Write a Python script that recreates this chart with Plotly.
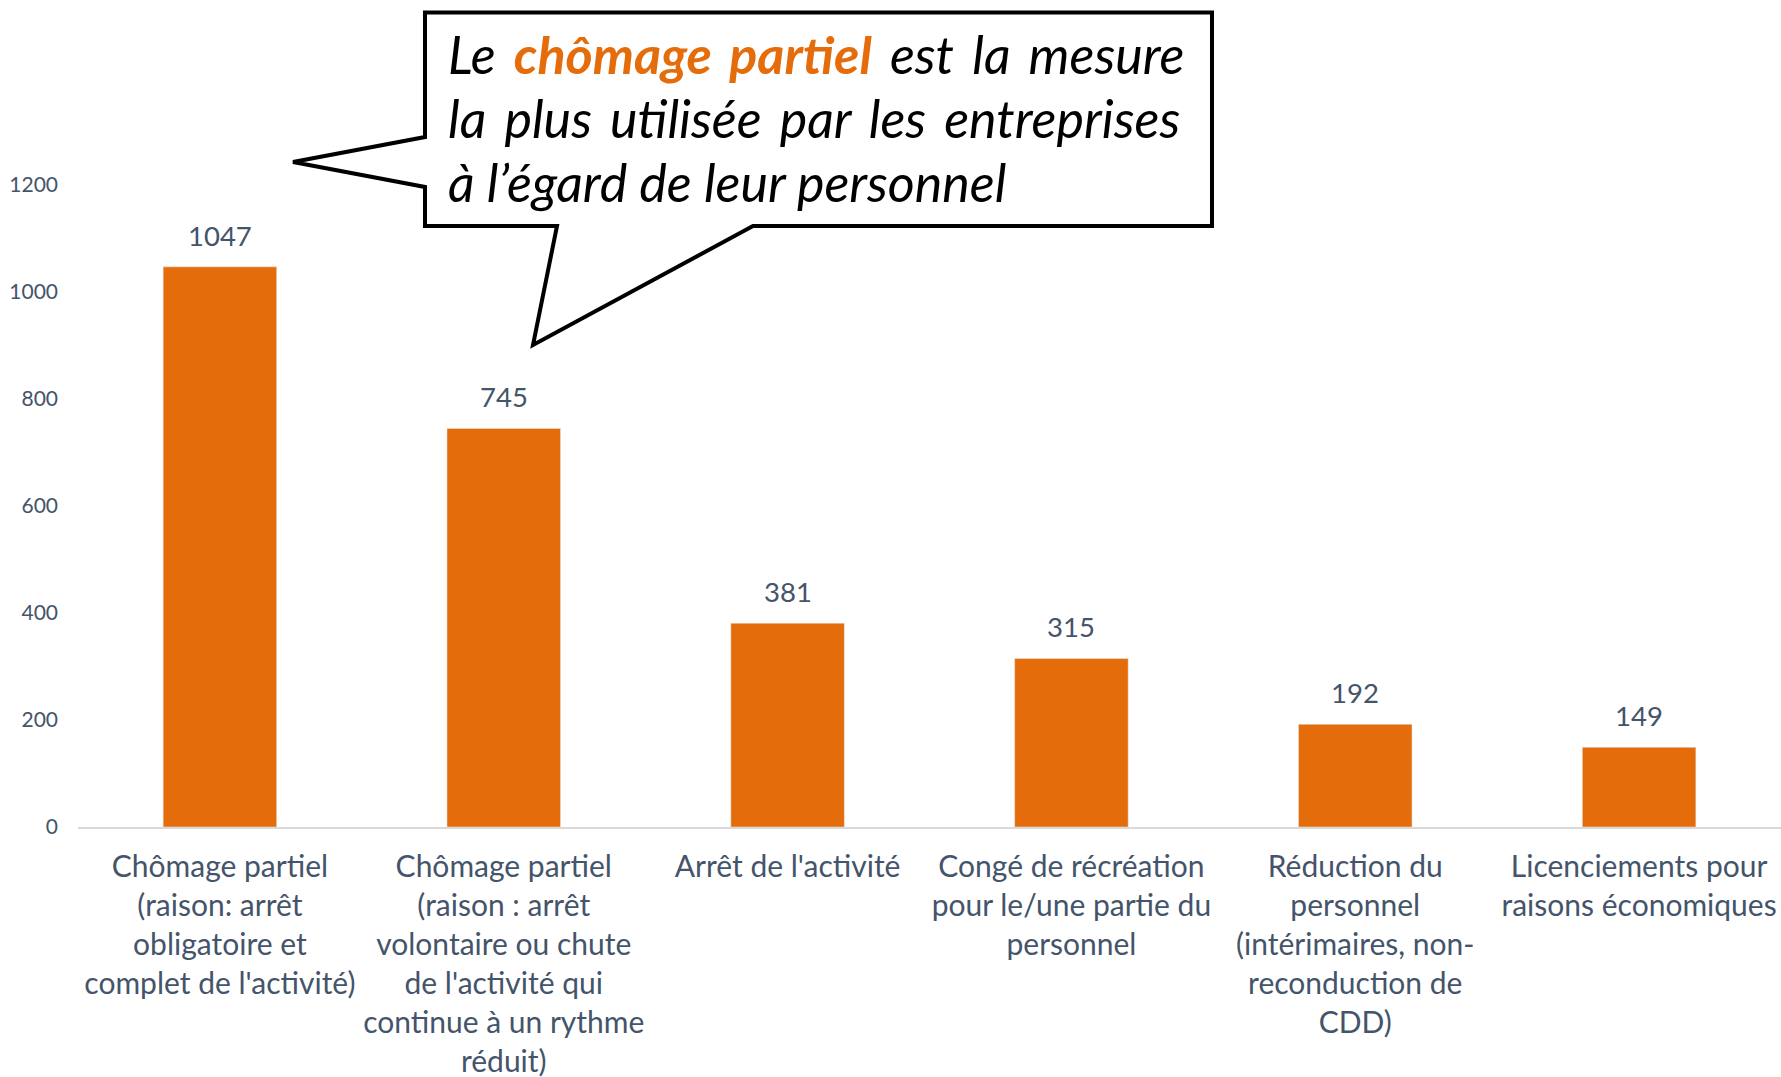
import plotly.graph_objects as go

categories = [
    "Chômage partiel<br>(raison: arrêt<br>obligatoire et<br>complet de l'activité)",
    "Chômage partiel<br>(raison : arrêt<br>volontaire ou chute<br>de l'activité qui<br>continue à un rythme<br>réduit)",
    "Arrêt de l'activité",
    "Congé de récréation<br>pour le/une partie du<br>personnel",
    "Réduction du<br>personnel<br>(intérimaires, non-<br>reconduction de<br>CDD)",
    "Licenciements pour<br>raisons économiques",
]
values = [1047, 745, 381, 315, 192, 149]
y_ticks = [0, 200, 400, 600, 800, 1000, 1200]

W, H = 1781, 1077
ML, MR, MT, MB = 78, 0, 185, 250
PW, PH = W - ML - MR, H - MT - MB

def px(x):
    return (x - ML) / PW

def py(y):
    return (H - MB - y) / PH

ORANGE = "#E46C0A"
GREY_TXT = "#44546A"
FONT = "Lato"

fig = go.Figure()
fig.add_trace(go.Bar(x=categories, y=values, marker_color=ORANGE, hoverinfo="skip"))

for c, v in zip(categories, values):
    fig.add_annotation(x=c, y=v, text=str(v), showarrow=False, yanchor="bottom",
                       yshift=13, font=dict(family=FONT, size=27.5, color=GREY_TXT))

# callout shape
pts = [(425, 12.5), (1212, 12.5), (1212, 226), (753, 226), (533, 345), (557, 226),
       (425, 226), (425, 187), (293, 162), (425, 137)]
path = "M " + " L ".join(f"{px(a):.5f},{py(b):.5f}" for a, b in pts) + " Z"
fig.add_shape(type="path", path=path, xref="paper", yref="paper",
              line=dict(color="black", width=4), fillcolor="white", layer="above")

G = " \u2009"  # widened gap to mimic justified text
lines = [
    "<i>Le" + G + "<b><span style='color:%s'>chômage" % ORANGE + G + "partiel</span></b>" + G
    + "est" + G + "la" + G + "mesure</i>",
    "<i>" + G.join(["la", "plus", "utilisée", "par", "les", "entreprises"]) + "</i>",
    "<i>à l’égard de leur personnel</i>",
]
line_y = [54, 118, 182]
for t, yy in zip(lines, line_y):
    fig.add_annotation(x=px(446), y=py(yy), xref="paper", yref="paper", text=t,
                       showarrow=False, xanchor="left", yanchor="middle", align="left",
                       font=dict(family=FONT, size=52, color="black"))

fig.update_layout(
    width=W, height=H,
    margin=dict(l=ML, r=MR, t=MT, b=MB),
    paper_bgcolor="white", plot_bgcolor="white",
    bargap=0.6, showlegend=False,
    xaxis=dict(showgrid=False, showline=True, linecolor="#D9D9D9", linewidth=2,
               tickfont=dict(family=FONT, size=30, color=GREY_TXT), tickangle=0,
               ticklabelstandoff=12, automargin=False),
    yaxis=dict(range=[0, 1200], tickvals=y_ticks, showgrid=False, zeroline=False,
               showline=False, tickfont=dict(family=FONT, size=21, color=GREY_TXT),
               ticklabelstandoff=19, automargin=False),
)

fig.write_html("out.html", config={"displayModeBar": False},
               post_script="document.body.style.margin='0';")
